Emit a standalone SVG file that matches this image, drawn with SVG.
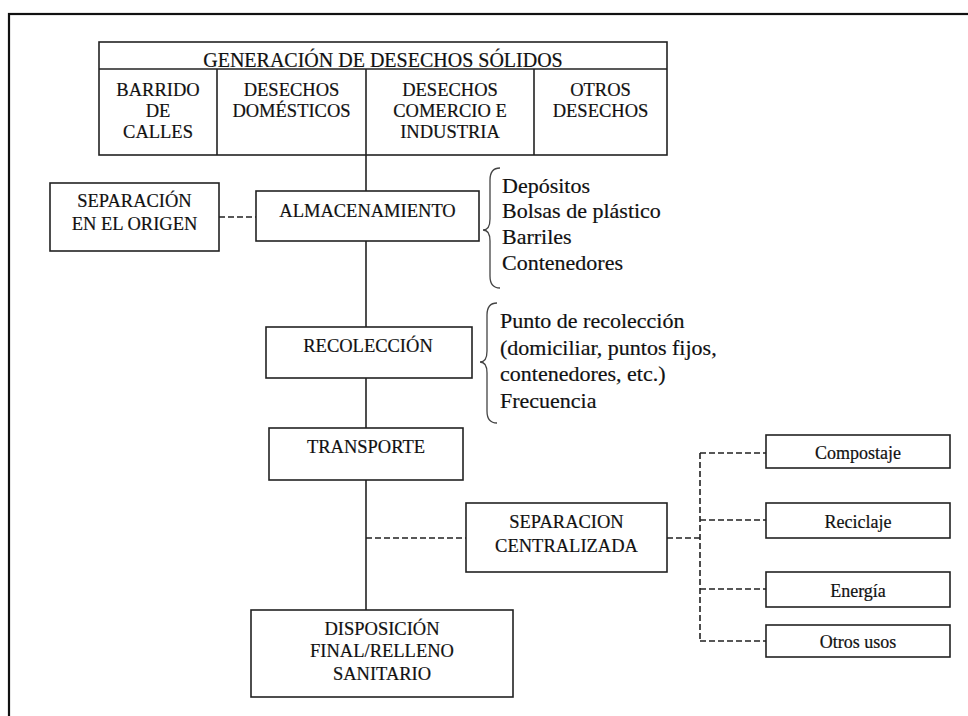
<svg xmlns="http://www.w3.org/2000/svg" width="968" height="716" viewBox="0 0 968 716">
<style>
.box{fill:#fff;stroke:#222;stroke-width:1.6}
.ln{stroke:#222;stroke-width:1.6;fill:none}
.dash{stroke:#222;stroke-width:1.6;fill:none;stroke-dasharray:6 3}
.brace{stroke:#444;stroke-width:1.3;fill:none}
text{font-family:'Liberation Serif','Times New Roman',serif;fill:#111;stroke:#111;stroke-width:0.2}
.cap{font-size:18.5px;text-anchor:middle}
.hd{font-size:20px;text-anchor:middle}
.lst{font-size:22px}
.sm{font-size:18px;text-anchor:middle}
</style>
<rect x="0" y="0" width="968" height="716" fill="#fff"/>
<rect x="9" y="14" width="1000" height="1000" fill="none" stroke="#111" stroke-width="2.2"/>

<g id="connectors">
<line class="ln" x1="366" y1="155" x2="366" y2="191"/>
<line class="ln" x1="366" y1="241" x2="366" y2="327"/>
<line class="ln" x1="366" y1="378" x2="366" y2="428"/>
<line class="ln" x1="366" y1="480" x2="366" y2="610"/>
<line class="dash" x1="219" y1="217" x2="256" y2="217"/>
<line class="dash" x1="366" y1="538" x2="466" y2="538"/>
<line class="dash" x1="667" y1="538" x2="700" y2="538"/>
<line class="dash" x1="700" y1="453" x2="700" y2="641"/>
<line class="dash" x1="700" y1="453" x2="766" y2="453"/>
<line class="dash" x1="700" y1="520" x2="766" y2="520"/>
<line class="dash" x1="700" y1="589" x2="766" y2="589"/>
<line class="dash" x1="700" y1="641" x2="766" y2="641"/>
</g>

<g id="generacion">
<rect class="box" x="99" y="42" width="568" height="113"/>
<line class="ln" x1="99" y1="69" x2="667" y2="69"/>
<line class="ln" x1="217" y1="69" x2="217" y2="155"/>
<line class="ln" x1="366" y1="69" x2="366" y2="155"/>
<line class="ln" x1="534" y1="69" x2="534" y2="155"/>
<text class="hd" x="383" y="67">GENERACIÓN DE DESECHOS SÓLIDOS</text>
<text class="cap" x="158" y="96">BARRIDO</text>
<text class="cap" x="158" y="117">DE</text>
<text class="cap" x="158" y="138">CALLES</text>
<text class="cap" x="291.5" y="96">DESECHOS</text>
<text class="cap" x="291.5" y="117">DOMÉSTICOS</text>
<text class="cap" x="450" y="96">DESECHOS</text>
<text class="cap" x="450" y="117">COMERCIO E</text>
<text class="cap" x="450" y="138">INDUSTRIA</text>
<text class="cap" x="600.5" y="96">OTROS</text>
<text class="cap" x="600.5" y="117">DESECHOS</text>
</g>

<g id="separacion-origen">
<rect class="box" x="50" y="183" width="169" height="68"/>
<text class="cap" x="134.5" y="207">SEPARACIÓN</text>
<text class="cap" x="134.5" y="230">EN EL ORIGEN</text>
</g>

<g id="almacenamiento">
<rect class="box" x="256" y="191" width="223" height="50"/>
<text class="cap" x="367.5" y="217">ALMACENAMIENTO</text>
</g>

<g id="almacenamiento-lista">
<path class="brace" d="M500,168 Q490,168 490,180 L490,219 Q490,230 483,230 Q490,230 490,241 L490,276 Q490,288 500,288"/>
<text class="lst" x="502" y="193">Depósitos</text>
<text class="lst" x="502" y="218">Bolsas de plástico</text>
<text class="lst" x="502" y="244">Barriles</text>
<text class="lst" x="502" y="270">Contenedores</text>
</g>

<g id="recoleccion">
<rect class="box" x="266" y="327" width="206" height="51"/>
<text class="cap" x="368" y="352">RECOLECCIÓN</text>
</g>

<g id="recoleccion-lista">
<path class="brace" d="M497,303 Q487,303 487,315 L487,351 Q487,362 480,362 Q487,362 487,373 L487,411 Q487,423 497,423"/>
<text class="lst" x="500" y="328">Punto de recolección</text>
<text class="lst" x="500" y="355">(domiciliar, puntos fijos,</text>
<text class="lst" x="500" y="381">contenedores, etc.)</text>
<text class="lst" x="500" y="408">Frecuencia</text>
</g>

<g id="transporte">
<rect class="box" x="269" y="428" width="194" height="52"/>
<text class="cap" x="366" y="453">TRANSPORTE</text>
</g>

<g id="separacion-centralizada">
<rect class="box" x="466" y="503" width="201" height="69"/>
<text class="cap" x="566.5" y="528">SEPARACION</text>
<text class="cap" x="566.5" y="552">CENTRALIZADA</text>
</g>

<g id="compostaje">
<rect class="box" x="766" y="435" width="184" height="33"/>
<text class="sm" x="858" y="459">Compostaje</text>
</g>
<g id="reciclaje">
<rect class="box" x="766" y="503" width="184" height="35"/>
<text class="sm" x="858" y="528">Reciclaje</text>
</g>
<g id="energia">
<rect class="box" x="766" y="572" width="184" height="35"/>
<text class="sm" x="858" y="597">Energía</text>
</g>
<g id="otros-usos">
<rect class="box" x="766" y="625" width="184" height="32"/>
<text class="sm" x="858" y="648">Otros usos</text>
</g>

<g id="disposicion">
<rect class="box" x="251" y="610" width="262" height="87"/>
<text class="cap" x="382" y="635">DISPOSICIÓN</text>
<text class="cap" x="382" y="657">FINAL/RELLENO</text>
<text class="cap" x="382" y="680">SANITARIO</text>
</g>
</svg>
